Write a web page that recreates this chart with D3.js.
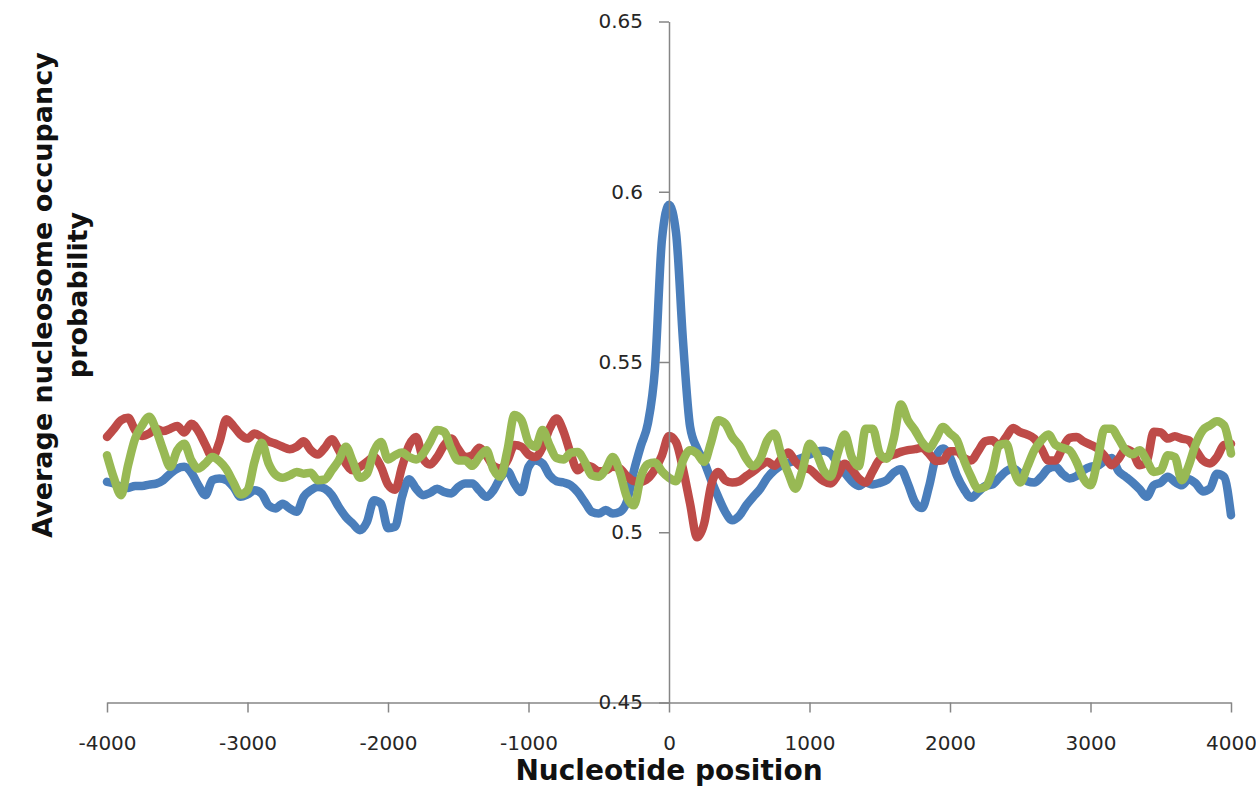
<!DOCTYPE html>
<html>
<head>
<meta charset="utf-8">
<script src="https://cdn.jsdelivr.net/npm/d3@7"></script>
<style>
body { margin: 0; background: #fff; }
.axis path, .axis line { stroke: #868686; stroke-width: 1.5px; }
.axis text { font: 20px "DejaVu Sans", sans-serif; fill: #262626; }
.series { fill: none; stroke-width: 8.5px; stroke-linejoin: round; stroke-linecap: round; }
.title { font-family: "DejaVu Sans", sans-serif; font-weight: bold; fill: #111; }
</style>
</head>
<body>
<script>
// positions along the sequence, every 50 nt
var positions = d3.range(-4000, 4001, 50);

var blue = [
  0.5148, 0.5143, 0.5133, 0.5130, 0.5136, 0.5136, 0.5140, 0.5143, 0.5153, 0.5172,
  0.5187, 0.5192, 0.5175, 0.5138, 0.5109, 0.5153, 0.5158, 0.5153, 0.5133, 0.5104,
  0.5111, 0.5123, 0.5114, 0.5079, 0.5070, 0.5084, 0.5070, 0.5060, 0.5104, 0.5123,
  0.5133, 0.5128, 0.5109, 0.5074, 0.5045, 0.5025, 0.5006, 0.5030, 0.5094, 0.5084,
  0.5012,
  0.5016, 0.5104, 0.5156, 0.5128, 0.5109, 0.5116, 0.5128, 0.5118, 0.5114, 0.5133,
  0.5143, 0.5143, 0.5123, 0.5104, 0.5123, 0.5160, 0.5179, 0.5143, 0.5118, 0.5192,
  0.5211, 0.5202, 0.5167, 0.5150, 0.5146, 0.5138, 0.5118, 0.5089, 0.5060, 0.5055,
  0.5065, 0.5055, 0.5060, 0.5090, 0.5180, 0.5254, 0.5320, 0.5480, 0.5860,
  0.5962, 0.5880, 0.5560, 0.5310, 0.5246, 0.5207, 0.5153, 0.5104, 0.5060, 0.5035,
  0.5048, 0.5079, 0.5104, 0.5128, 0.5160, 0.5182, 0.5197, 0.5204, 0.5211, 0.5219,
  0.5228, 0.5236, 0.5239, 0.5231, 0.5202, 0.5175, 0.5150, 0.5136, 0.5146, 0.5140,
  0.5145, 0.5153, 0.5175, 0.5185, 0.5143, 0.5089, 0.5071, 0.5133, 0.5221, 0.5246,
  0.5220,
  0.5165, 0.5126, 0.5101, 0.5118, 0.5136, 0.5140, 0.5160, 0.5179, 0.5187, 0.5172,
  0.5150, 0.5146, 0.5163, 0.5187, 0.5192, 0.5172, 0.5158, 0.5165, 0.5182, 0.5192,
  0.5195, 0.5209, 0.5218, 0.5179, 0.5163, 0.5146, 0.5126, 0.5104, 0.5138, 0.5146,
  0.5163, 0.5148, 0.5138, 0.5156, 0.5143, 0.5120, 0.5128, 0.5172, 0.5163, 0.5050
];

var red = [
  0.5280, 0.5304, 0.5329, 0.5336, 0.5300, 0.5283, 0.5290, 0.5304, 0.5297, 0.5304,
  0.5312, 0.5293, 0.5319, 0.5297, 0.5257, 0.5221, 0.5265, 0.5332, 0.5312, 0.5287,
  0.5275, 0.5290, 0.5280, 0.5267, 0.5260, 0.5251, 0.5244, 0.5251, 0.5267, 0.5241,
  0.5228, 0.5248, 0.5273, 0.5241, 0.5202, 0.5182, 0.5192, 0.5207, 0.5221, 0.5192,
  0.5140,
  0.5125, 0.5192, 0.5255, 0.5280, 0.5216, 0.5199, 0.5221, 0.5256, 0.5275, 0.5244,
  0.5221, 0.5226, 0.5248, 0.5226, 0.5195, 0.5187, 0.5211, 0.5256, 0.5251, 0.5228,
  0.5221, 0.5250, 0.5304, 0.5334, 0.5295, 0.5231, 0.5182, 0.5197, 0.5192, 0.5179,
  0.5182, 0.5192, 0.5187, 0.5165, 0.5150, 0.5148, 0.5158, 0.5185, 0.5226,
  0.5283, 0.5265, 0.5185, 0.5084, 0.4985, 0.5025, 0.5138, 0.5177, 0.5153, 0.5146,
  0.5150, 0.5165, 0.5179, 0.5195, 0.5207, 0.5195, 0.5216, 0.5234, 0.5207, 0.5189,
  0.5185, 0.5167, 0.5150, 0.5143, 0.5167, 0.5201, 0.5185, 0.5158, 0.5146, 0.5179,
  0.5213, 0.5221, 0.5228, 0.5236, 0.5241, 0.5244, 0.5248, 0.5231, 0.5209, 0.5211,
  0.5238,
  0.5238, 0.5218, 0.5211, 0.5238, 0.5267, 0.5270, 0.5255, 0.5280, 0.5306, 0.5294,
  0.5287, 0.5275, 0.5246, 0.5211, 0.5211, 0.5246, 0.5277, 0.5280, 0.5267, 0.5257,
  0.5246, 0.5224, 0.5197, 0.5216, 0.5244, 0.5234, 0.5197, 0.5207, 0.5295, 0.5293,
  0.5275, 0.5282, 0.5275, 0.5270, 0.5241, 0.5211, 0.5202, 0.5221, 0.5256, 0.5260
];

var green = [
  0.5226, 0.5158, 0.5109, 0.5197, 0.5275, 0.5314, 0.5339, 0.5300, 0.5241, 0.5192,
  0.5241, 0.5260, 0.5211, 0.5187, 0.5202, 0.5221, 0.5209, 0.5185, 0.5146, 0.5111,
  0.5123, 0.5207, 0.5263, 0.5202, 0.5169, 0.5160, 0.5167, 0.5177, 0.5172, 0.5175,
  0.5153, 0.5155, 0.5182, 0.5211, 0.5251, 0.5207, 0.5160, 0.5172, 0.5238, 0.5265,
  0.5214,
  0.5226, 0.5234, 0.5221, 0.5214, 0.5231, 0.5265, 0.5300, 0.5295, 0.5246, 0.5211,
  0.5211, 0.5195, 0.5221, 0.5241, 0.5185, 0.5163, 0.5241, 0.5344, 0.5329, 0.5265,
  0.5251, 0.5300, 0.5255, 0.5218, 0.5214, 0.5233, 0.5236, 0.5207, 0.5167, 0.5163,
  0.5185, 0.5221, 0.5177, 0.5104, 0.5079, 0.5163, 0.5200, 0.5205, 0.5179,
  0.5160, 0.5150, 0.5211, 0.5241, 0.5231, 0.5207, 0.5265, 0.5329, 0.5319, 0.5280,
  0.5255, 0.5216, 0.5194, 0.5216, 0.5270, 0.5290, 0.5226, 0.5172, 0.5128, 0.5182,
  0.5260, 0.5231, 0.5182, 0.5163, 0.5231, 0.5287, 0.5221, 0.5194, 0.5304, 0.5304,
  0.5231, 0.5216, 0.5275, 0.5375, 0.5329, 0.5300, 0.5265, 0.5246, 0.5275, 0.5309,
  0.5290,
  0.5270, 0.5211, 0.5163, 0.5128, 0.5133, 0.5177, 0.5256, 0.5260, 0.5187, 0.5146,
  0.5192, 0.5241, 0.5270, 0.5287, 0.5257, 0.5248, 0.5241, 0.5207, 0.5158, 0.5138,
  0.5211, 0.5304, 0.5304, 0.5275, 0.5241, 0.5229, 0.5241, 0.5211, 0.5177, 0.5182,
  0.5226, 0.5221, 0.5153, 0.5197, 0.5260, 0.5300, 0.5314, 0.5326, 0.5314, 0.5231
];

var xTicks = [-4000, -3000, -2000, -1000, 0, 1000, 2000, 3000, 4000];
var yTicks = [0.45, 0.5, 0.55, 0.6, 0.65];

var series = [
  {values: blue,  color: "#4a7ebb"},
  {values: red,   color: "#be4b48"},
  {values: green, color: "#98b954"}
];

var width = 1256, height = 786;

var x = d3.scaleLinear().domain([-4000, 4000]).range([107, 1231]);
var y = d3.scaleLinear().domain([0.45, 0.65]).range([702.5, 21.5]);

var svg = d3.select("body").append("svg")
    .attr("width", width)
    .attr("height", height);

var line = d3.line()
    .x((d, i) => x(positions[i]))
    .y(d => y(d))
    .curve(d3.curveMonotoneX);

svg.selectAll(".series")
    .data(series)
    .enter().append("path")
    .attr("class", "series")
    .attr("stroke", d => d.color)
    .attr("d", d => line(d.values));

// axes go on top of the lines, like the original
svg.append("g")
    .attr("class", "axis")
    .attr("transform", "translate(0," + y(0.45) + ")")
    .call(d3.axisBottom(x)
        .tickValues(xTicks)
        .tickSize(10)
        .tickSizeOuter(0)
        .tickPadding(23)
        .tickFormat(d => String(d)));

svg.append("g")
    .attr("class", "axis")
    .attr("transform", "translate(" + x(0) + ",0)")
    .call(d3.axisLeft(y)
        .tickValues(yTicks)
        .tickSize(10)
        .tickSizeOuter(0)
        .tickPadding(16)
        .tickFormat(d => String(d)));

svg.append("text")
    .attr("class", "title")
    .attr("x", 669)
    .attr("y", 780)
    .attr("text-anchor", "middle")
    .style("font-size", "28px")
    .text("Nucleotide position");

var ytitle = ["Average nucleosome occupancy", "probability"];
svg.selectAll(".ytitle")
    .data(ytitle)
    .enter().append("text")
    .attr("class", "title ytitle")
    .attr("text-anchor", "middle")
    .attr("transform", (d, i) => "translate(" + (52 + i * 35) + ",295) rotate(-90)")
    .style("font-size", "27px")
    .text(d => d);
</script>
</body>
</html>
